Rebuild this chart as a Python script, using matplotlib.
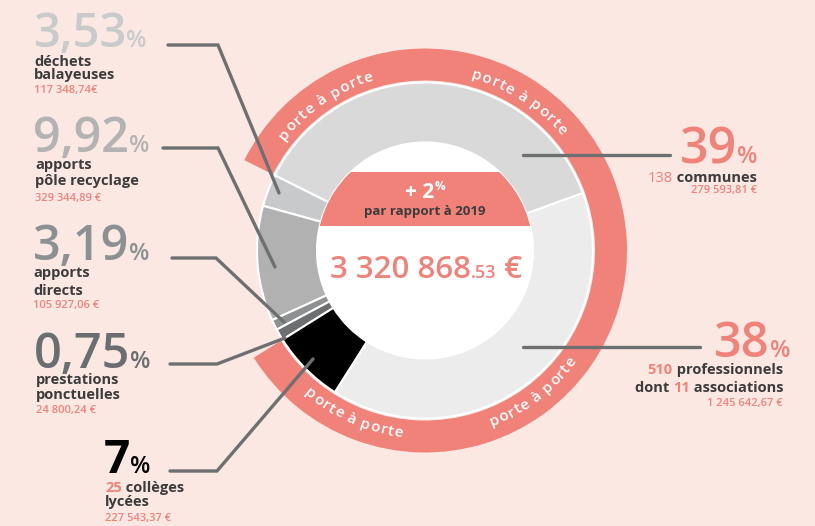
import numpy as np
import matplotlib
matplotlib.use("Agg")
import matplotlib.pyplot as plt
from matplotlib.patches import Wedge, Circle, Rectangle
from matplotlib.font_manager import FontProperties

# ---------------- data ----------------
categories = ["communes", "déchets balayeuses", "apports pôle recyclage",
              "apports directs", "prestations ponctuelles", "collèges lycées",
              "professionnels"]
percent_text = ["39", "3,53", "9,92", "3,19", "0,75", "7", "38"]
amount_text = ["279 593,81 €", "117 348,74€", "329 344,89 €", "105 927,06 €",
               "24 800,24 €", "227 543,37 €", "1 245 642,67 €"]
# angular share of each ring slice as drawn (percent of the circle)
slice_share = [37.1, 3.1, 11.1, 1.0, 1.1, 7.1, 39.6]
slice_colors = ["#d9d9d9", "#c8c9cb", "#b1b1b1", "#8e9091", "#6c6e70", "#000000", "#ececec"]
number_colors = ["#f0827a", "#c8cacc", "#b3b3b3", "#8d9092", "#6b6e70", "#000000", "#f0827a"]
ring_label = "porte à porte"
total_main = "3 320 868"
total_cents = ".53"
evolution = "+ 2"
evolution_sub = "par rapport à 2019"

BG = "#fce8e3"
SALMON = "#f0827a"
DARK = "#3c3c3c"
LINE = "#6d6f71"
FONT = ["Open Sans", "DejaVu Sans"]

W, H = 815, 526
fig = plt.figure(figsize=(W / 100, H / 100), dpi=100, facecolor=BG)
ax = fig.add_axes([0, 0, 1, 1])
ax.set_facecolor(BG)

cx, cy = 425, H - 250.5

wedges, _ = ax.pie(slice_share, colors=slice_colors, startangle=20, counterclock=True,
                   radius=168, center=(cx, cy),
                   wedgeprops=dict(width=60, edgecolor="white", linewidth=1.5))
ax.set_xlim(0, W)
ax.set_ylim(0, H)
ax.set_aspect("auto")
ax.axis("off")

# salmon "porte à porte" ring over communes + collèges + professionnels
t1 = wedges[5].theta1
t2 = wedges[0].theta2 + 360
ax.add_patch(Wedge((cx, cy), 202, t1, t2, width=32, facecolor=SALMON, edgecolor="none"))

# inner white disc + banner
disc = Circle((cx, cy), 108, facecolor="white", edgecolor="none", zorder=3)
ax.add_patch(disc)
banner = Rectangle((300, H - 226), 260, 54, facecolor=SALMON, edgecolor="none", zorder=4)
ax.add_patch(banner)
banner.set_clip_path(disc)

fig.canvas.draw()
renderer = fig.canvas.get_renderer()


def fprop(size, weight="normal"):
    return FontProperties(family=FONT, size=size, weight=weight)


def textw(t, fp):
    if t == "":
        return 0.0
    wb = renderer.get_text_width_height_descent("|", fp, ismath=False)[0]
    return renderer.get_text_width_height_descent(t + "|", fp, ismath=False)[0] - wb


def runs(x, yscr, parts, align="left", z=6):
    """parts: list of (text, size, color, weight, dy)"""
    ws = [textw(p[0], fprop(p[1], p[3])) for p in parts]
    total = sum(ws)
    x0 = x if align == "left" else x - total
    for (t, s, c, wgt, dy), w in zip(parts, ws):
        ax.text(x0, H - yscr + dy, t, ha="left", va="baseline", fontsize=s, color=c,
                fontweight=wgt, family=FONT, zorder=z)
        x0 += w


def curved(s, center_deg, r, top, size, target):
    fp = fprop(size, "semibold")
    total = textw(s, fp)
    cents = [(textw(s[:i], fp) + textw(s[:i + 1], fp)) / 2 for i in range(len(s))]
    span = cents[-1] - cents[0]
    k = target / span
    for i, ch in enumerate(s):
        if ch == " ":
            continue
        c = (cents[i] - total / 2) * k
        d = np.degrees(c / r)
        if top:
            th = center_deg - d
            rot = th - 90
        else:
            th = center_deg + d
            rot = th + 90
        x = cx + r * np.cos(np.radians(th))
        y = cy + r * np.sin(np.radians(th))
        ax.text(x, y, ch, rotation=rot, rotation_mode="anchor", ha="center",
                va="baseline", fontsize=size, color="white", fontweight="semibold",
                family=FONT, zorder=5)


curved(ring_label, 124.4, 178.0, True, 11, 100)
curved(ring_label, 57.7, 178.0, True, 11, 100)
curved(ring_label, -52.7, 188.0, False, 11, 100)
curved(ring_label, -113.6, 188.0, False, 11, 100)

# ---------------- leader lines ----------------
leaders = [
    [(168, 45), (218, 45), (279, 193)],
    [(163, 148), (218, 148), (275, 267)],
    [(172, 258), (216, 258), (284, 322)],
    [(170, 364), (217, 364), (285, 338)],
    [(170, 471), (217, 471), (313, 359)],
    [(523, 155), (670, 155)],
    [(523, 347), (700, 347)],
]
for pts in leaders:
    xs = [p[0] for p in pts]
    ys = [H - p[1] for p in pts]
    ax.plot(xs, ys, color=LINE, lw=2.4, solid_capstyle="round",
            solid_joinstyle="miter", zorder=7)

# ---------------- centre texts ----------------
runs(425 - (textw(evolution, fprop(15, "bold")) + textw("%", fprop(8.5, "bold"))) / 2, 198,
     [(evolution, 15, "white", "bold", 0), ("%", 8.5, "white", "bold", 8)])
ax.text(425, H - 215, evolution_sub, ha="center", va="baseline", fontsize=9.5,
        color=DARK, fontweight="bold", family=FONT, zorder=6)
parts = [(total_main, 22.5, SALMON, "semibold", 0), (total_cents, 13, SALMON, "semibold", 0),
         (" €", 22.5, SALMON, "semibold", 0)]
tw = sum(textw(p[0], fprop(p[1], p[3])) for p in parts)
runs(426 - tw / 2, 278, parts)

# ---------------- left labels ----------------
ND = "semibold"
BW = "semibold"
# déchets balayeuses
runs(33, 47, [(percent_text[1], 34, number_colors[1], BW, 0), ("%", 17, number_colors[1], BW, 0)])
runs(34, 66, [("déchets", 10.5, DARK, "bold", 0)])
runs(34, 79, [("balayeuses", 10.5, DARK, "bold", 0)])
runs(34, 93, [(amount_text[1], 8, SALMON, ND, 0)])
# apports pôle recyclage
runs(33, 152, [(percent_text[2], 35, number_colors[2], BW, 0), ("%", 17, number_colors[2], BW, 0)])
runs(35, 169, [("apports", 10.5, DARK, "bold", 0)])
runs(35, 185, [("pôle recyclage", 10.5, DARK, "bold", 0)])
runs(35, 201, [(amount_text[2], 8, SALMON, ND, 0)])
# apports directs
runs(33, 260, [(percent_text[3], 35, number_colors[3], BW, 0), ("%", 17, number_colors[3], BW, 0)])
runs(33, 277, [("apports", 10.5, DARK, "bold", 0)])
runs(33, 295, [("directs", 10.5, DARK, "bold", 0)])
runs(33, 308, [(amount_text[3], 8, SALMON, ND, 0)])
# prestations ponctuelles
runs(34, 368, [(percent_text[4], 35, number_colors[4], BW, 0), ("%", 17, number_colors[4], BW, 0)])
runs(36, 384, [("prestations", 10.5, DARK, "bold", 0)])
runs(36, 399, [("ponctuelles", 10.5, DARK, "bold", 0)])
runs(36, 413, [(amount_text[4], 8, SALMON, ND, 0)])
# collèges lycées
runs(104, 473, [(percent_text[5], 33, number_colors[5], "bold", 0), ("%", 17, number_colors[5], BW, 0)])
runs(105, 492, [("25", 10.5, SALMON, "bold", 0), (" collèges", 10.5, DARK, "bold", 0)])
runs(105, 506, [("lycées", 10.5, DARK, "bold", 0)])
runs(105, 521, [(amount_text[5], 8, SALMON, ND, 0)])

# ---------------- right labels ----------------
runs(757, 163, [(percent_text[0], 36, number_colors[0], BW, 0), ("%", 17, number_colors[0], BW, 0)], align="right")
runs(757, 182, [("138", 10.5, SALMON, "normal", 0), (" communes", 10.5, DARK, "bold", 0)], align="right")
runs(757, 193, [(amount_text[0], 8, SALMON, ND, 0)], align="right")

runs(790, 357, [(percent_text[6], 35, number_colors[6], BW, 0), ("%", 17, number_colors[6], BW, 0)], align="right")
runs(783, 374, [("510", 10.5, SALMON, "bold", 0), (" professionnels", 10.5, DARK, "bold", 0)], align="right")
runs(783, 392, [("dont ", 10.5, DARK, "bold", 0), ("11", 10.5, SALMON, "bold", 0),
                (" associations", 10.5, DARK, "bold", 0)], align="right")
runs(783, 406, [(amount_text[6], 8, SALMON, ND, 0)], align="right")

fig.savefig("out.png", dpi=100, facecolor=BG)
